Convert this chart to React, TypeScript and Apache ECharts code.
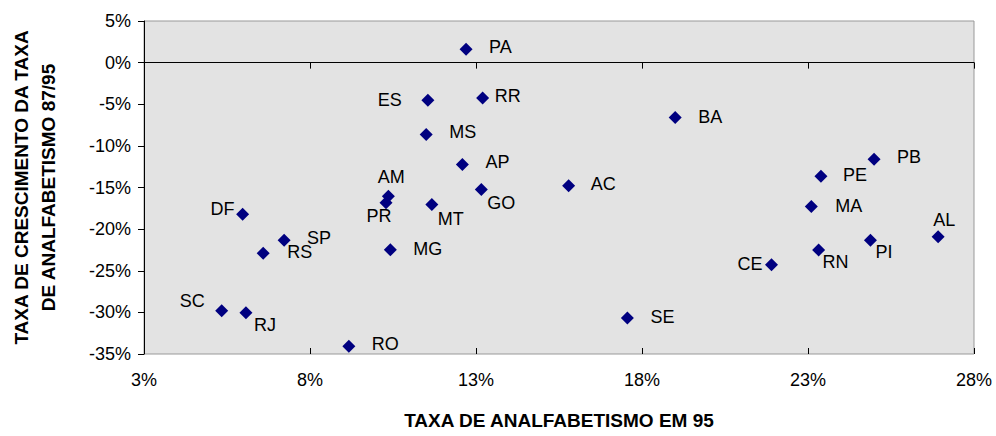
import React, { useEffect, useRef } from "react";
import * as echarts from "echarts";

const states = ["PA","ES","RR","MS","AP","BA","AC","GO","SE","AM","PR","MT","DF","SP","RS","MG","SC","RJ","RO","PB","PE","MA","AL","PI","RN","CE"];
const illiteracy95 = [12.70,11.55,13.20,11.50,12.59,19.00,15.79,13.16,17.56,10.36,10.29,11.67,5.97,7.22,6.59,10.42,5.34,6.07,9.17,24.99,23.39,23.10,26.92,24.88,23.32,21.90];
const growth8795 = [1.6,-4.52,-4.24,-8.63,-12.23,-6.6,-14.8,-15.23,-30.68,-16.04,-16.84,-17.03,-18.2,-21.35,-22.9,-22.48,-29.8,-30.04,-34.07,-11.6,-13.64,-17.27,-20.92,-21.35,-22.5,-24.28];
const xTicks = [3, 8, 13, 18, 23, 28];
const yTicks = [-35, -30, -25, -20, -15, -10, -5, 0, 5];

const xTitle = "TAXA DE ANALFABETISMO EM 95";
const yTitle = "TAXA DE CRESCIMENTO DA TAXA\nDE ANALFABETISMO 87/95";

// label placement style: [align, dx, dy]
const labelStyle: Record<string, [string, number, number]> = {
  PA: ["left", 23, -2], ES: ["right", -26, 0], RR: ["left", 12, -2], MS: ["left", 23, -2],
  AP: ["left", 23, -2], BA: ["left", 23, -1], AC: ["left", 22, -2], GO: ["left", 6, 14],
  SE: ["left", 23, -1], AM: ["center", 3, -19], PR: ["center", -7, 13], MT: ["left", 6, 15],
  DF: ["right", -8, -5], SP: ["left", 23, -2], RS: ["left", 24, -1], MG: ["left", 23, -1],
  SC: ["right", -17, -10], RJ: ["left", 8, 12], RO: ["left", 23, -2], PB: ["left", 23, -2],
  PE: ["left", 22, -1], MA: ["left", 24, 0], AL: ["center", 6, -17], PI: ["left", 5, 12],
  RN: ["left", 4, 12], CE: ["right", -9, -1],
};

const FONT = "'Liberation Sans', Arial, sans-serif";

export default function App() {
  const ref = useRef<HTMLDivElement>(null);
  useEffect(() => {
    if (!ref.current) return;
    const chart = echarts.init(ref.current, undefined, { renderer: "svg" });
    const data = states.map((s, i) => {
      const [align, dx, dy] = labelStyle[s];
      return {
        name: s,
        value: [illiteracy95[i], growth8795[i]],
        label: { show: true, position: "inside", align, verticalAlign: "middle", offset: [dx, dy], formatter: s },
      };
    });
    chart.setOption({
      animation: false,
      textStyle: { fontFamily: FONT },
      grid: {
        left: 144, right: 22, top: 21, bottom: 82, show: true,
        backgroundColor: "#e3e3e3", borderColor: "#999999", borderWidth: 1,
      },
      xAxis: [
        {
          type: "value", min: 3, max: 28, position: "bottom",
          name: xTitle, nameLocation: "middle", nameGap: 57,
          nameTextStyle: { fontSize: 19, fontWeight: "bold", color: "#000", fontFamily: FONT },
          axisLine: { show: true, lineStyle: { color: "#000", width: 1 } },
          axisTick: { show: true, length: 6, customValues: xTicks, lineStyle: { color: "#000" } },
          axisLabel: { customValues: xTicks, formatter: (v: number) => `${v}%`, fontSize: 18, color: "#000", margin: 17, fontFamily: FONT },
          splitLine: { show: false },
        },
        {
          type: "value", min: 3, max: 28, position: "bottom",
          axisLine: { show: false },
          axisTick: { show: true, inside: true, length: 6, customValues: xTicks, lineStyle: { color: "#000" } },
          axisLabel: { show: false },
          splitLine: { show: false },
        },
      ],
      yAxis: {
        type: "value", min: yTicks[0], max: yTicks[yTicks.length - 1], interval: 5,
        name: yTitle, nameLocation: "middle", nameGap: 82,
        nameTextStyle: { fontSize: 19, fontWeight: "bold", color: "#000", lineHeight: 27, fontFamily: FONT },
        axisLine: { show: true, lineStyle: { color: "#000", width: 1 } },
        axisTick: { show: true, length: 6, lineStyle: { color: "#000" } },
        axisLabel: { formatter: (v: number) => `${v}%`, fontSize: 18, color: "#000", margin: 13, fontFamily: FONT },
        splitLine: { show: false },
      },
      series: [
        {
          type: "scatter",
          symbol: "diamond",
          symbolSize: 13,
          itemStyle: { color: "#000080", opacity: 1 },
          label: { fontSize: 18, color: "#000", fontFamily: FONT },
          data,
          markLine: {
            silent: true, symbol: "none", label: { show: false },
            lineStyle: { color: "#000", width: 1, type: "solid", opacity: 1 },
            data: [{ yAxis: 0 }],
          },
        },
      ],
    });
    return () => chart.dispose();
  }, []);
  return <div ref={ref} style={{ position: "absolute", left: 0, top: 0, width: 996, height: 436 }} />;
}
